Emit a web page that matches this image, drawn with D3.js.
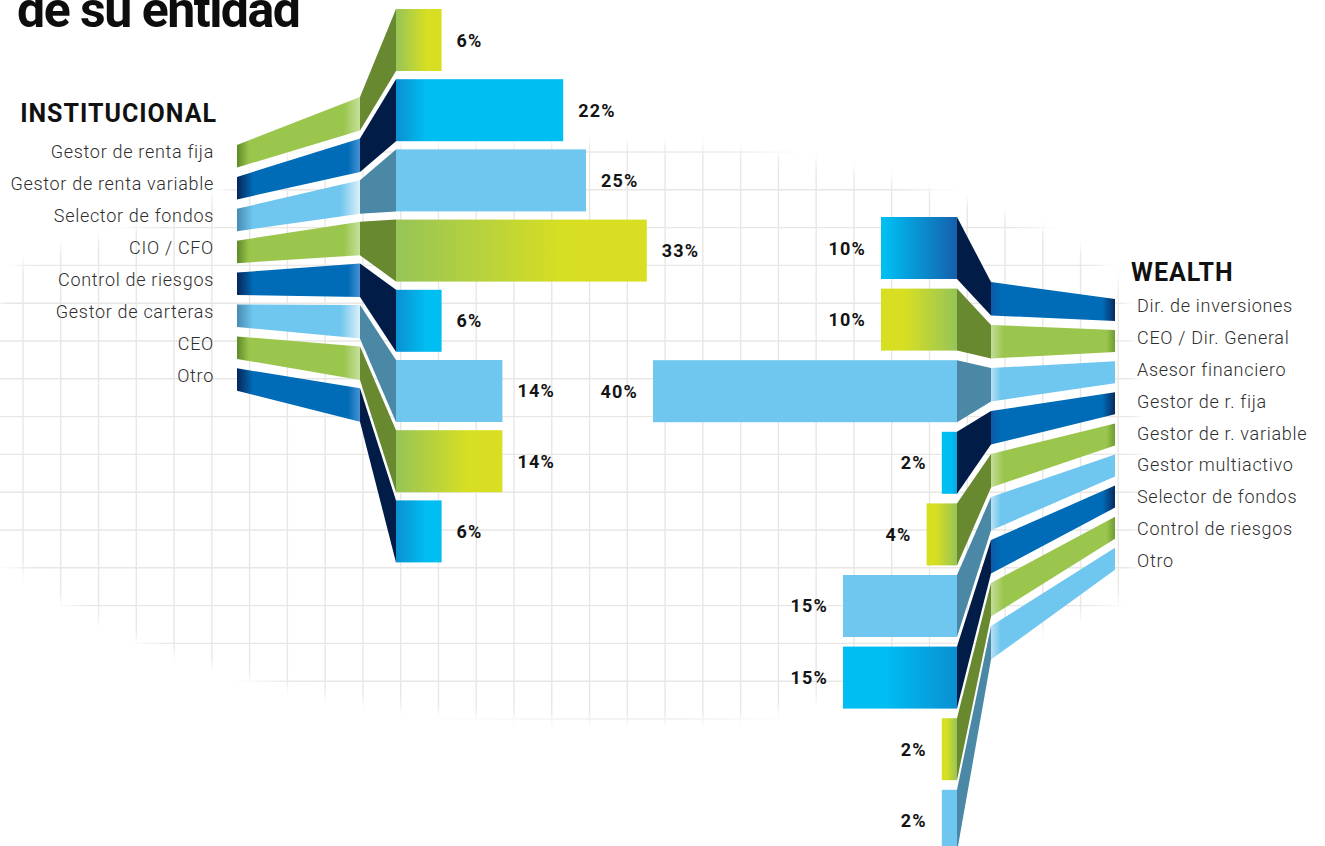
<!DOCTYPE html>
<html>
<head>
<meta charset="utf-8">
<script src="https://cdn.jsdelivr.net/npm/d3@7"></script>
<style>
  html, body { margin: 0; padding: 0; background: #ffffff; overflow: hidden; }
  svg { display: block; }
  text { font-family: Roboto, "Open Sans", "DejaVu Sans", sans-serif; }
</style>
</head>
<body>
<svg id="chart" width="1325" height="846"></svg>
<script>
// ---- data ---------------------------------------------------------------
const titleText = "de su entidad";
const instHeading = "INSTITUCIONAL";
const wealthHeading = "WEALTH";

const instCategories = [
  "Gestor de renta fija", "Gestor de renta variable", "Selector de fondos",
  "CIO / CFO", "Control de riesgos", "Gestor de carteras", "CEO", "Otro"
];
const instValues = [6, 22, 25, 33, 6, 14, 14, 6];

const wealthCategories = [
  "Dir. de inversiones", "CEO / Dir. General", "Asesor financiero",
  "Gestor de r. fija", "Gestor de r. variable", "Gestor multiactivo",
  "Selector de fondos", "Control de riesgos", "Otro"
];
const wealthValues = [10, 10, 40, 2, 4, 15, 15, 2, 2];

// ---- setup --------------------------------------------------------------
const svg = d3.select("#chart");
const defs = svg.append("defs");

const instCycle = ["green", "blue", "sky"];
const wealthCycle = ["blue", "green", "sky"];
const foldFill = { green: "#68892f", blue: "#011c46", sky: "#4a88a6" };
const flatFill = { green: "#9bc64e", blue: "#006bb6", sky: "#6fc6ee" };

function gradient(id, x1, x2, stops, units) {
  const g = defs.append("linearGradient").attr("id", id)
    .attr("x1", x1).attr("x2", x2).attr("y1", 0).attr("y2", 0)
    .attr("gradientUnits", units || "userSpaceOnUse");
  stops.forEach(([o, c]) => g.append("stop").attr("offset", o).attr("stop-color", c));
  return `url(#${id})`;
}

// value scale shared by both bar groups (percent -> pixels)
const xVal = d3.scaleLinear().domain([0, 40]).range([0, 304]);

// institutional geometry
const I = { end: 237, mid: 360, bar: 396 };
const yInstBar = d3.scaleBand().domain(instCategories).range([9, 562.4]).paddingInner(0.1168);
const yInstMid = d3.scaleBand().domain(instCategories).range([97, 421.7]).paddingInner(0.195);
const yInstEnd = d3.scaleBand().domain(instCategories).range([145, 390.8]).paddingInner(0.295);
const yInstLabel = d3.scalePoint().domain(instCategories).range([158, 382]);

// wealth geometry
const Wl = { bar: 957, mid: 991, end: 1115 };
const yWBar = d3.scaleBand().domain(wealthCategories).range([217, 851.8]).paddingInner(0.134);
const yWMid = d3.scaleBand().domain(wealthCategories).range([282, 659.5]).paddingInner(0.221);
const yWEnd = d3.scaleBand().domain(wealthCategories).range([299, 569.8]).paddingInner(0.293);
const yWLabel = d3.scalePoint().domain(wealthCategories).range([312, 567]);

// ---- background grid ------------------------------------------------------
const gridOutline = [
  [0, 300], [20, 265], [137, 228], [213, 198], [262, 165], [320, 150], [720, 148],
  [790, 158], [860, 172], [930, 190], [1000, 213], [1060, 238], [1105, 268],
  [1124, 300], [1126, 590], [1090, 612], [1000, 642], [893, 672], [817, 698],
  [780, 710], [700, 720], [600, 721], [515, 717], [439, 711], [364, 701],
  [288, 687], [213, 665], [155, 646], [99, 619], [61, 599], [20, 569], [0, 556]
];
const blur = defs.append("filter").attr("id", "soft")
  .attr("x", -0.1).attr("y", -0.1).attr("width", 1.2).attr("height", 1.2);
blur.append("feGaussianBlur").attr("stdDeviation", 6);
const mask = defs.append("mask").attr("id", "gridMask")
  .attr("maskUnits", "userSpaceOnUse").attr("x", 0).attr("y", 0)
  .attr("width", 1325).attr("height", 846);
mask.append("path")
  .attr("d", d3.line().curve(d3.curveCatmullRomClosed)(gridOutline))
  .attr("fill", "#fff").attr("filter", "url(#soft)");

const grid = svg.append("g").attr("mask", "url(#gridMask)")
  .attr("stroke", "#e9e7e4").attr("stroke-width", 1.4);
grid.selectAll("line.v").data(d3.range(30)).join("line")
  .attr("x1", k => 23 + k * 37.77).attr("x2", k => 23 + k * 37.77)
  .attr("y1", 100).attr("y2", 760);
grid.selectAll("line.h").data(d3.range(16)).join("line")
  .attr("y1", k => 152 + k * 37.8).attr("y2", k => 152 + k * 37.8)
  .attr("x1", 0).attr("x2", 1160);

// ---- gradients ------------------------------------------------------------
const instBand = {
  green: gradient("ibGreen", I.end, I.mid, [[0, "#5d8a27"], [0.1, "#9bc64e"], [0.87, "#9bc64e"], [1, "#c6e09c"]]),
  blue: gradient("ibBlue", I.end, I.mid, [[0, "#06265a"], [0.13, "#006bb6"], [0.9, "#006bb6"], [1, "#4592d4"]]),
  sky: gradient("ibSky", I.end, I.mid, [[0, "#468bb2"], [0.13, "#6fc6ee"], [0.84, "#6fc6ee"], [1, "#dcf0fa"]])
};
const wealthBand = {
  green: gradient("wbGreen", Wl.mid, Wl.end, [[0, "#c3dd98"], [0.1, "#9bc64e"], [0.93, "#9bc64e"], [1, "#6f9c33"]]),
  blue: gradient("wbBlue", Wl.mid, Wl.end, [[0, "#0a5aa8"], [0.08, "#006bb6"], [0.9, "#006bb6"], [1, "#0a2a5c"]]),
  sky: gradient("wbSky", Wl.mid, Wl.end, [[0, "#b9e1f5"], [0.08, "#6fc6ee"], [1, "#6fc6ee"]])
};
const instBarFill = {
  green: gradient("iBarGreen", 0, 1, [[0, "#96c457"], [0.68, "#d8df22"], [1, "#d8df22"]], "objectBoundingBox"),
  blue: gradient("iBarBlue", I.bar, I.bar + 30, [[0, "#0a90d1"], [1, "#00bdf2"]]),
  sky: "#6fc6ee"
};
const wealthGreenFill = gradient("wBarGreen", 0, 1, [[0, "#d8df22"], [0.3, "#d8df22"], [1, "#96c457"]], "objectBoundingBox");

function poly(pts) { return "M" + pts.map(p => p.join(",")).join("L") + "Z"; }

// ---- institutional ribbons and bars ----------------------------------------
const instData = instCategories.map((c, i) => ({ c, v: instValues[i], t: instCycle[i % 3] }));

const gInst = svg.append("g");
gInst.selectAll("path.band").data(instData).join("path")
  .attr("d", d => poly([
    [I.end, yInstEnd(d.c)], [I.mid, yInstMid(d.c)],
    [I.mid, yInstMid(d.c) + yInstMid.bandwidth()], [I.end, yInstEnd(d.c) + yInstEnd.bandwidth()]
  ]))
  .attr("fill", d => instBand[d.t]);

gInst.selectAll("path.fold").data(instData).join("path")
  .attr("d", d => poly([
    [I.mid, yInstMid(d.c)], [I.bar, yInstBar(d.c)],
    [I.bar, yInstBar(d.c) + yInstBar.bandwidth()], [I.mid, yInstMid(d.c) + yInstMid.bandwidth()]
  ]))
  .attr("fill", d => foldFill[d.t]);

gInst.selectAll("rect").data(instData).join("rect")
  .attr("x", I.bar).attr("y", d => yInstBar(d.c))
  .attr("width", d => xVal(d.v)).attr("height", yInstBar.bandwidth())
  .attr("fill", d => instBarFill[d.t]);

gInst.selectAll("text.val").data(instData).join("text")
  .attr("x", d => I.bar + xVal(d.v) + 15)
  .attr("y", d => yInstBar(d.c) + yInstBar.bandwidth() / 2 + 6.5)
  .attr("font-size", 18).attr("font-weight", 700).attr("letter-spacing", 1.2)
  .attr("fill", "#141414")
  .text(d => d.v + "%");

gInst.selectAll("text.cat").data(instData).join("text")
  .attr("x", 214).attr("y", d => yInstLabel(d.c))
  .attr("text-anchor", "end").attr("font-size", 18).attr("font-weight", 300)
  .attr("letter-spacing", 0.7)
  .attr("fill", "#2e2e2e")
  .text(d => d.c);

// ---- wealth ribbons and bars -----------------------------------------------
const wealthData = wealthCategories.map((c, i) => ({ c, v: wealthValues[i], t: wealthCycle[i % 3], i }));

const gW = svg.append("g");
gW.selectAll("path.band").data(wealthData).join("path")
  .attr("d", d => poly([
    [Wl.mid, yWMid(d.c)], [Wl.end, yWEnd(d.c)],
    [Wl.end, yWEnd(d.c) + yWEnd.bandwidth()], [Wl.mid, yWMid(d.c) + yWMid.bandwidth()]
  ]))
  .attr("fill", d => wealthBand[d.t]);

gW.selectAll("path.fold").data(wealthData).join("path")
  .attr("d", d => poly([
    [Wl.bar, yWBar(d.c)], [Wl.mid, yWMid(d.c)],
    [Wl.mid, yWMid(d.c) + yWMid.bandwidth()], [Wl.bar, yWBar(d.c) + yWBar.bandwidth()]
  ]))
  .attr("fill", d => foldFill[d.t]);

function wealthBarFill(d) {
  if (d.t === "sky") return flatFill.sky;
  if (d.t === "green") return wealthGreenFill;
  const w = xVal(d.v);
  const endColor = w < 30 ? "#0aa6e2" : (w < 90 ? "#1560ac" : "#0a8fd2");
  return gradient("wBarBlue" + d.i, Wl.bar - Math.min(w, 72), Wl.bar,
    [[0, "#00bdf2"], [w < 30 ? 0.6 : 0, "#00bdf2"], [1, endColor]]);
}

gW.selectAll("rect").data(wealthData).join("rect")
  .attr("x", d => Wl.bar - xVal(d.v)).attr("y", d => yWBar(d.c))
  .attr("width", d => xVal(d.v)).attr("height", yWBar.bandwidth())
  .attr("fill", wealthBarFill);

gW.selectAll("text.val").data(wealthData).join("text")
  .attr("x", d => Wl.bar - xVal(d.v) - 15)
  .attr("y", d => yWBar(d.c) + yWBar.bandwidth() / 2 + 6.5)
  .attr("text-anchor", "end")
  .attr("font-size", 18).attr("font-weight", 700).attr("letter-spacing", 1.2)
  .attr("fill", "#141414")
  .text(d => d.v + "%");

gW.selectAll("text.cat").data(wealthData).join("text")
  .attr("x", 1137).attr("y", d => yWLabel(d.c))
  .attr("font-size", 18).attr("font-weight", 300).attr("letter-spacing", 0.7)
  .attr("fill", "#2e2e2e")
  .text(d => d.c);

// ---- headings -------------------------------------------------------------
svg.append("text")
  .attr("x", 17).attr("y", 27)
  .attr("font-size", 50).attr("font-weight", 700).attr("letter-spacing", -1.5)
  .attr("fill", "#0d0d0d")
  .text(titleText);

svg.append("text")
  .attr("x", 217).attr("y", 122).attr("text-anchor", "end")
  .attr("font-size", 25).attr("font-weight", 700).attr("letter-spacing", 1)
  .attr("fill", "#111111")
  .text(instHeading);

svg.append("text")
  .attr("x", 1131).attr("y", 281)
  .attr("font-size", 25).attr("font-weight", 700).attr("letter-spacing", 1)
  .attr("fill", "#111111")
  .text(wealthHeading);
</script>
</body>
</html>
